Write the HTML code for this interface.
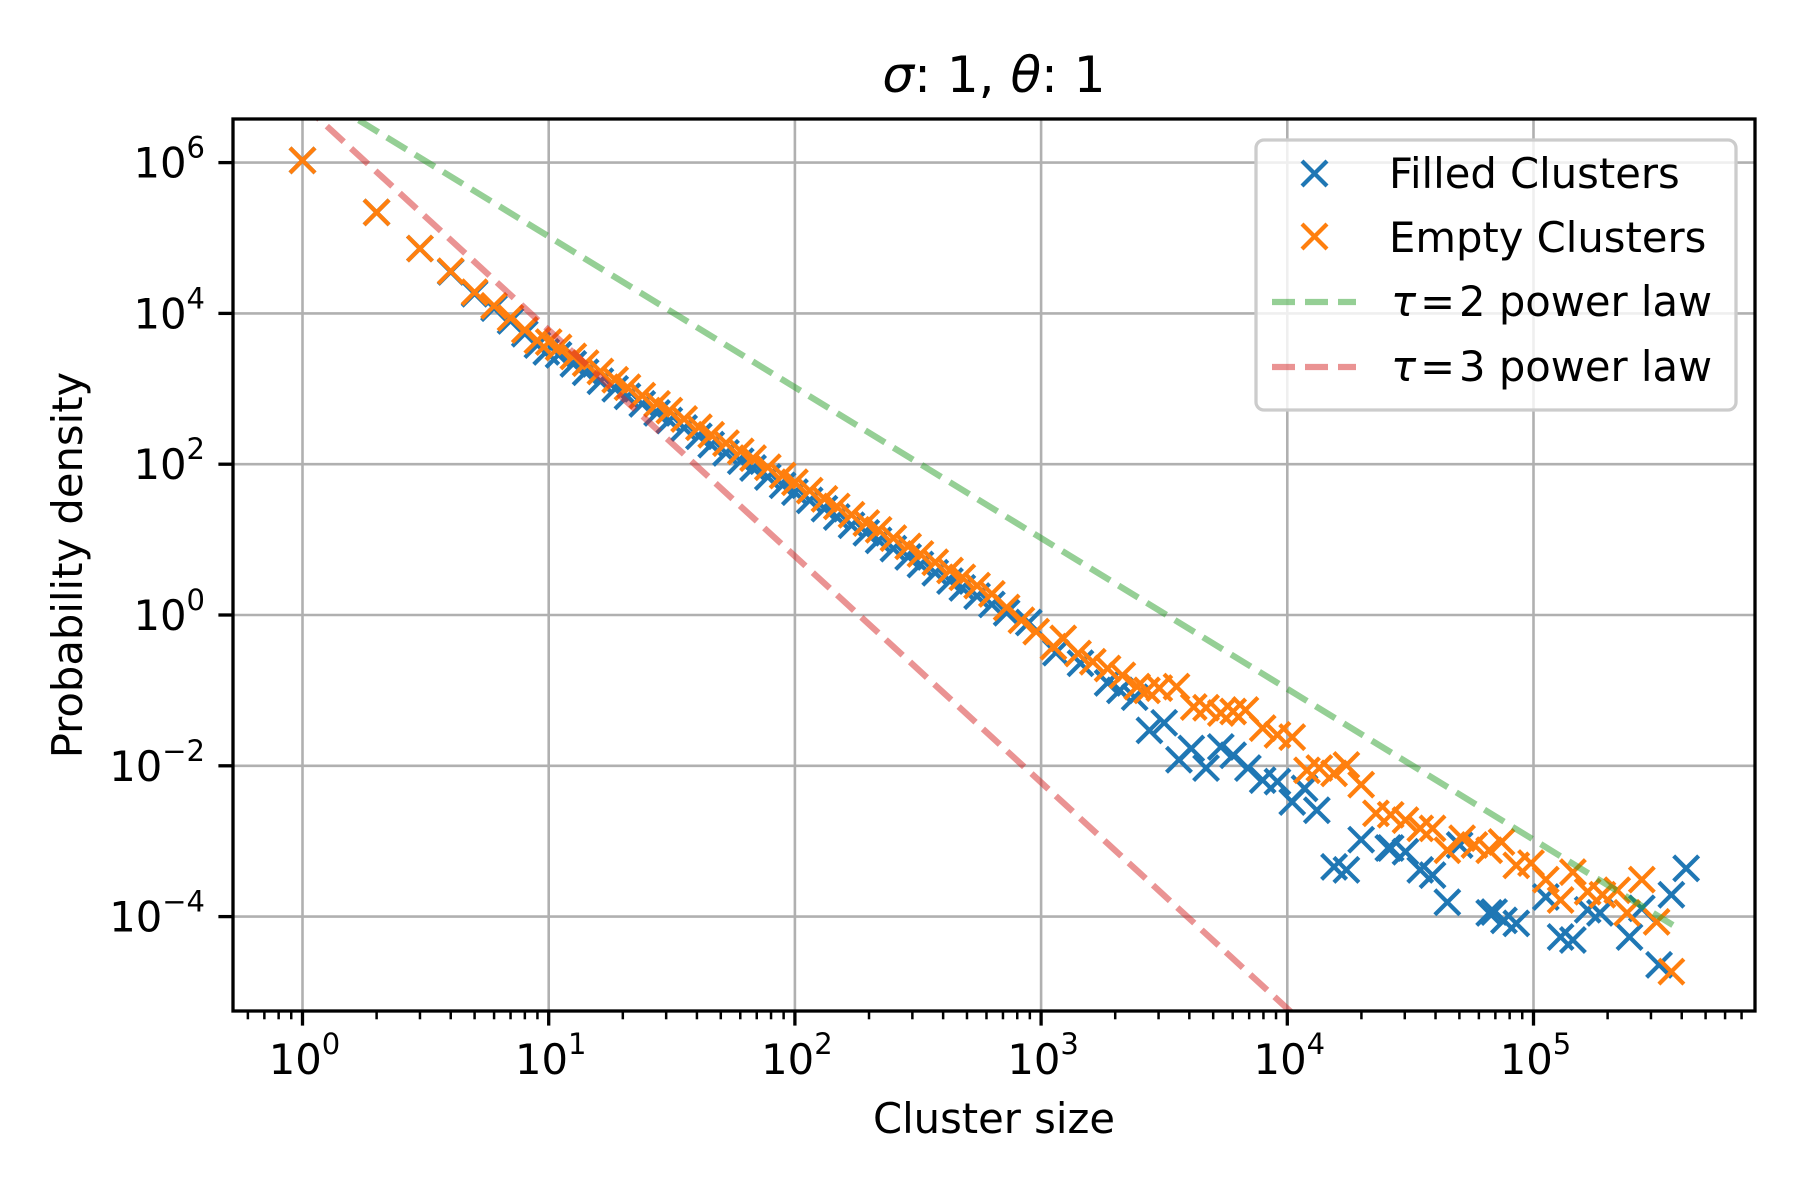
<!DOCTYPE html>
<html><head><meta charset="utf-8"><style>
html,body{margin:0;padding:0;background:#fff;width:1800px;height:1200px;overflow:hidden;}
svg{display:block;font-family:"DejaVu Sans","Liberation Sans",sans-serif;}
</style></head><body>
<svg id="chart" width="1800" height="1200" viewBox="0 0 1800 1200" xmlns="http://www.w3.org/2000/svg">
<rect width="1800" height="1200" fill="#fff"/>
<defs><clipPath id="plotclip"><rect x="233" y="119" width="1522" height="892"/></clipPath></defs>
<g id="grid" clip-path="url(#plotclip)"></g>
<g id="series" clip-path="url(#plotclip)"></g>
<g id="axes"></g>
<text x="994" y="92" font-size="50" text-anchor="middle"><tspan font-style="italic">σ</tspan>: 1, <tspan font-style="italic">θ</tspan>: 1</text>
<text x="994" y="1133" font-size="41.7" text-anchor="middle">Cluster size</text>
<text transform="translate(82,565) rotate(-90)" font-size="41.7" text-anchor="middle">Probability density</text>
<g>
<rect x="1256" y="140" width="480" height="270" rx="8" fill="#fff" fill-opacity="0.8" stroke="#cccccc" stroke-width="3.3"/>
<g>
<path d="M1302,161 L1327,186 M1327,161 L1302,186" stroke="#1f77b4" stroke-width="4.2"/>
<text x="1389" y="188" font-size="41.7">Filled Clusters</text></g>
<g>
<path d="M1302,224 L1327,249 M1327,224 L1302,249" stroke="#ff7f0e" stroke-width="4.2"/>
<text x="1389" y="252" font-size="41.7">Empty Clusters</text></g>
<g>
<line x1="1272" y1="302" x2="1356" y2="302" stroke="#2ca02c" stroke-opacity="0.5" stroke-width="6.25" stroke-dasharray="23 10"/>
<text x="1391" y="316" font-size="41.7"><tspan font-style="italic">τ</tspan><tspan dx="4">=</tspan><tspan dx="4">2 power law</tspan></text></g>
<g>
<line x1="1272" y1="367" x2="1356" y2="367" stroke="#d62728" stroke-opacity="0.5" stroke-width="6.25" stroke-dasharray="23 10"/>
<text x="1391" y="381" font-size="41.7"><tspan font-style="italic">τ</tspan><tspan dx="4">=</tspan><tspan dx="4">3 power law</tspan></text></g>
</g>
</svg>
<script>
// ---- data (log10 values) ----
const xMajorExps = [0, 1, 2, 3, 4, 5];
const yMajorExps = [-4, -2, 0, 2, 4, 6];
const filledLogSize = [0,0.301,0.477,0.602,0.699,0.778,0.845,0.903,0.954,0.99,1.04,1.10,1.15,1.21,1.27,1.32,1.38,1.44,1.49,1.55,1.61,1.66,1.72,1.78,1.83,1.89,1.95,2.0,2.06,2.12,2.17,2.23,2.29,2.34,2.40,2.46,2.51,2.57,2.63,2.68,2.74,2.80,2.86,2.95,3.06,3.16,3.27,3.32,3.38,3.44,3.50,3.56,3.61,3.67,3.73,3.78,3.84,3.90,3.96,4.02,4.07,4.12,4.19,4.24,4.30,4.41,4.42,4.48,4.54,4.59,4.65,4.70,4.82,4.84,4.88,4.93,5.05,5.11,5.16,5.22,5.27,5.39,5.44,5.51,5.56,5.62];
const filledLogDensity = [6.03,5.34,4.86,4.55,4.26,4.07,3.90,3.73,3.58,3.49,3.45,3.33,3.22,3.10,3.00,2.90,2.80,2.68,2.58,2.48,2.37,2.26,2.15,2.04,1.95,1.83,1.72,1.63,1.52,1.41,1.30,1.19,1.09,0.99,0.88,0.77,0.67,0.56,0.45,0.36,0.25,0.14,0.03,-0.10,-0.50,-0.64,-0.90,-1.00,-1.09,-1.53,-1.43,-1.92,-1.77,-2.03,-1.75,-1.86,-2.03,-2.19,-2.21,-2.48,-2.30,-2.59,-3.34,-3.38,-2.98,-3.09,-3.09,-3.14,-3.38,-3.45,-3.81,-3.05,-3.95,-3.94,-4.05,-4.09,-3.74,-4.27,-4.31,-3.91,-3.95,-4.27,-3.89,-4.64,-3.71,-3.36];
const emptyLogSize = [0,0.301,0.477,0.602,0.699,0.778,0.845,0.903,0.954,1.0,1.04,1.10,1.15,1.21,1.27,1.32,1.38,1.44,1.49,1.55,1.61,1.66,1.72,1.78,1.83,1.89,1.95,2.0,2.06,2.12,2.17,2.23,2.29,2.34,2.40,2.46,2.51,2.57,2.63,2.68,2.74,2.80,2.86,2.92,2.98,3.05,3.09,3.15,3.21,3.27,3.33,3.39,3.43,3.48,3.55,3.62,3.67,3.73,3.78,3.83,3.90,3.96,4.02,4.08,4.13,4.19,4.24,4.30,4.36,4.42,4.48,4.54,4.59,4.65,4.71,4.76,4.82,4.87,4.93,4.99,5.05,5.11,5.16,5.22,5.28,5.34,5.38,5.44,5.50,5.56];
const emptyLogDensity = [6.03,5.34,4.86,4.56,4.28,4.10,3.94,3.78,3.64,3.62,3.55,3.43,3.34,3.23,3.12,3.02,2.91,2.80,2.71,2.60,2.49,2.39,2.28,2.17,2.08,1.96,1.85,1.76,1.65,1.54,1.44,1.33,1.22,1.13,1.02,0.91,0.81,0.70,0.59,0.50,0.39,0.28,0.10,-0.07,-0.22,-0.42,-0.31,-0.51,-0.62,-0.71,-0.80,-0.95,-1.00,-0.97,-0.95,-1.22,-1.23,-1.30,-1.28,-1.26,-1.50,-1.59,-1.62,-2.06,-2.03,-2.10,-1.99,-2.25,-2.63,-2.65,-2.72,-2.83,-2.83,-3.12,-2.96,-3.05,-3.12,-3.01,-3.32,-3.29,-3.51,-3.78,-3.41,-3.67,-3.71,-3.65,-3.95,-3.51,-4.07,-4.73];
const powerLawTaus = [2, 3];
const powerLawLogAmp = [7.02, 6.78];
const powerLawLogRange = [0, 5.57];

// ---- axes ----
const X0 = 302.5, XD = 246.2, Y0 = 615, YD = 75.4;
const L = 233, R = 1755, T = 119, B = 1011;
function px(lx){ return X0 + XD*lx; }
function py(ly){ return Y0 - YD*ly; }
const NS = 'http://www.w3.org/2000/svg';
function mk(tag, attrs, parent){
  const e = document.createElementNS(NS, tag);
  for (const k in attrs) e.setAttribute(k, attrs[k]);
  parent.appendChild(e); return e;
}
const grid = document.getElementById('grid');
const axes = document.getElementById('axes');
const series = document.getElementById('series');

xMajorExps.forEach(e => {
  const x = px(e);
  const g = mk('line', {x1:x, y1:T, x2:x, y2:B, stroke:'#b0b0b0', 'stroke-width':2.6}, grid);
  
  
  const t = mk('line', {x1:x, y1:B, x2:x, y2:B+14.6, stroke:'#000', 'stroke-width':3.3}, axes);
  
  
  const lab = mk('text', {x:x+2, y:1074, 'font-size':41.7, 'text-anchor':'middle'}, axes);
  
  
  lab.innerHTML = '10<tspan font-size="29" dy="-20">' + e + '</tspan>';
});
for (let d = -1; d <= 5; d++) {
  for (let m = 2; m <= 9; m++) {
    const lx = d + Math.log10(m);
    const x = px(lx);
    if (x < L || x > R) continue;
    const t = mk('line', {x1:x, y1:B, x2:x, y2:B+8.3, stroke:'#000', 'stroke-width':2.5}, axes);
    
    
  }
}
yMajorExps.forEach(e => {
  const y = py(e);
  const g = mk('line', {x1:L, y1:y, x2:R, y2:y, stroke:'#b0b0b0', 'stroke-width':2.6}, grid);
  
  
  const t = mk('line', {x1:L-14.6, y1:y, x2:L, y2:y, stroke:'#000', 'stroke-width':3.3}, axes);
  
  
  const lab = mk('text', {x:205, y:y+15, 'font-size':41.7, 'text-anchor':'end'}, axes);
  
  
  const s = e < 0 ? '\u2212' + (-e) : '' + e;
  lab.innerHTML = '10<tspan font-size="29" dy="-20">' + s + '</tspan>';
});
const frame = mk('rect', {x:L, y:T, width:R-L, height:B-T, fill:'none', stroke:'#000', 'stroke-width':3.3}, axes);



function drawMarkers(xs, ys, color, name){
  const g = mk('g', {}, series);
  
  
  const h = 12.5;
  for (let i = 0; i < xs.length; i++) {
    const x = px(xs[i]), y = py(ys[i]);
    const p = mk('path', {d:`M${x-h},${y-h} L${x+h},${y+h} M${x+h},${y-h} L${x-h},${y+h}`, stroke:color, 'stroke-width':4.2, fill:'none'}, g);
    
    
  }
}
drawMarkers(filledLogSize, filledLogDensity, '#1f77b4', 'filled-clusters');
drawMarkers(emptyLogSize, emptyLogDensity, '#ff7f0e', 'empty-clusters');

const lineColors = ['#2ca02c', '#d62728'];
powerLawTaus.forEach((tau, i) => {
  const a = powerLawLogRange[0], b = powerLawLogRange[1];
  const l = mk('line', {x1:px(a), y1:py(powerLawLogAmp[i] - tau*a), x2:px(b), y2:py(powerLawLogAmp[i] - tau*b),
    stroke:lineColors[i], 'stroke-opacity':0.5, 'stroke-width':6.25, 'stroke-dasharray':'23 10'}, series);
  
  
});
</script>
</body></html>
